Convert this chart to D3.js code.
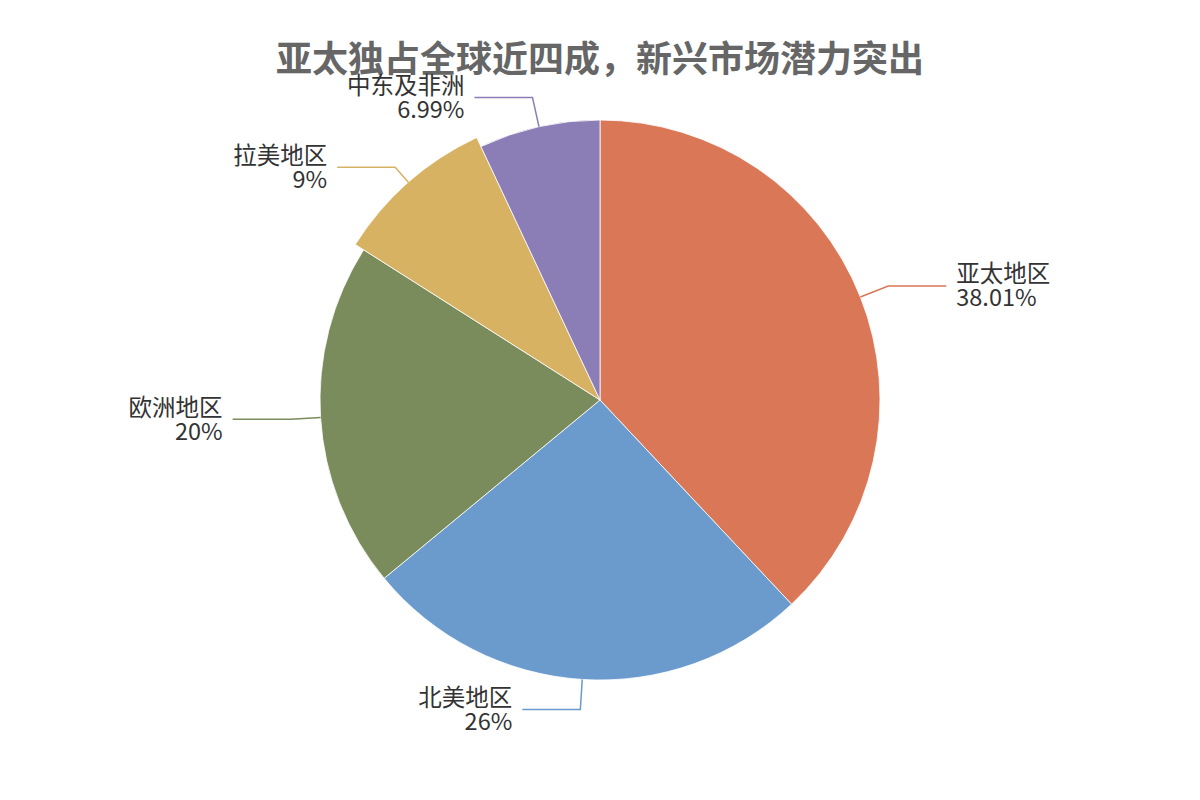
<!DOCTYPE html>
<html><head><meta charset="utf-8">
<script src="https://cdn.jsdelivr.net/npm/d3@7/dist/d3.min.js"></script>
<style>html,body{margin:0;padding:0;background:#fff;}svg{display:block;}</style>
</head><body>
<svg id="chart" width="1200" height="800"></svg>
<script>
const title = "亚太独占全球近四成，新兴市场潜力突出";
const categories = ["亚太地区", "北美地区", "欧洲地区", "拉美地区", "中东及非洲"];
const values = [38.01, 26, 20, 9, 6.99];
const valueLabels = ["38.01%", "26%", "20%", "9%", "6.99%"];
const colors = ["#D97756", "#6A9BCC", "#7A8B5C", "#D8B263", "#8B7DB5"];
const highlighted = "拉美地区";

const svg = d3.select("#chart");
const cx = 600, cy = 400, R = 280, RH = 290, R2 = 310, len2 = 58, gap = 10;
const font = "'Noto Sans CJK SC', 'Noto Sans', sans-serif";

svg.append("text").attr("x", 600).attr("y", 56)
  .attr("text-anchor", "middle").attr("dominant-baseline", "central")
  .attr("font-family", font).attr("font-weight", "bold").attr("font-size", 36)
  .attr("fill", "#666").text(title);

const data = categories.map((c, i) => ({cat: c, value: values[i], label: valueLabels[i], color: colors[i]}));
const pie = d3.pie().value(d => d.value).sort(null);
const arcs = pie(data);
const g = svg.append("g").attr("transform", `translate(${cx},${cy})`);

g.selectAll("path.slice").data(arcs).join("path")
  .attr("class", "slice")
  .attr("d", d => d3.arc().innerRadius(0).outerRadius(d.data.cat === highlighted ? RH : R)(d))
  .attr("fill", d => d.data.color)
  .attr("stroke", "#fff").attr("stroke-width", 0.8);

arcs.forEach(d => {
  const a = (d.startAngle + d.endAngle) / 2;
  const sx = Math.sin(a), sy = -Math.cos(a);
  const r0 = d.data.cat === highlighted ? RH : R;
  const p1 = [sx * r0, sy * r0];
  const p2 = [sx * R2, sy * R2];
  const right = sx >= 0;
  const p3 = [p2[0] + (right ? len2 : -len2), p2[1]];
  g.append("path")
    .attr("d", d3.line()([p1, p2, p3]))
    .attr("fill", "none").attr("stroke", d.data.color).attr("stroke-width", 1.5);
  const tx = p3[0] + (right ? gap : -gap);
  const t = g.append("text")
    .attr("x", tx).attr("y", p3[1])
    .attr("text-anchor", right ? "start" : "end")
    .attr("font-family", font).attr("font-size", 23.5).attr("fill", "#333");
  t.append("tspan").attr("x", tx).attr("dy", "-0.15em").text(d.data.cat);
  t.append("tspan").attr("x", tx).attr("dy", "1.02em").text(d.data.label);
});
</script>
</body></html>
